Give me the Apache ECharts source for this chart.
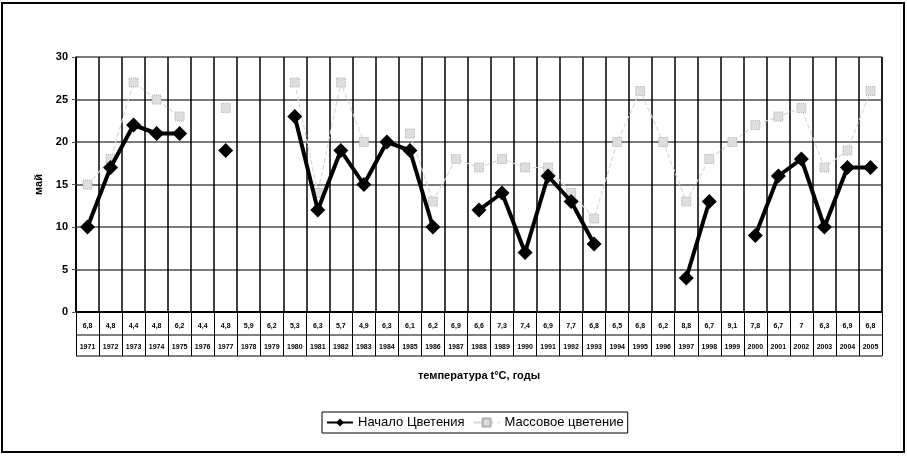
<!DOCTYPE html>
<html>
<head>
<meta charset="utf-8">
<style>
  html, body { margin: 0; padding: 0; background: #fff; }
  #chart { width: 907px; height: 456px; }
</style>
<script src="https://cdn.jsdelivr.net/npm/echarts@6/dist/echarts.min.js"></script>
</head>
<body>
<div id="chart"></div>
<script>
// годы наблюдений
var years = ['1971', '1972', '1973', '1974', '1975', '1976', '1977', '1978', '1979', '1980',
  '1981', '1982', '1983', '1984', '1985', '1986', '1987', '1988', '1989', '1990',
  '1991', '1992', '1993', '1994', '1995', '1996', '1997', '1998', '1999', '2000',
  '2001', '2002', '2003', '2004', '2005'];
// температура, t°C
var temps = ['6,8', '4,8', '4,4', '4,8', '6,2', '4,4', '4,8', '5,9', '6,2', '5,3',
  '6,3', '5,7', '4,9', '6,3', '6,1', '6,2', '6,9', '6,6', '7,3', '7,4',
  '6,9', '7,7', '6,8', '6,5', '6,8', '6,2', '8,8', '6,7', '9,1', '7,8',
  '6,7', '7', '6,3', '6,9', '6,8'];
// Начало Цветения (дата в мае)
var startBloom = [10, 17, 22, 21, 21, null, 19, null, null, 23,
  12, 19, 15, 20, 19, 10, null, 12, 14, 7,
  16, 13, 8, null, null, null, 4, 13, null, 9,
  16, 18, 10, 17, 17];
// Массовое цветение
var massBloom = [15, 18, 27, 25, 23, null, 24, null, null, 27,
  14, 27, 20, null, 21, 13, 18, 17, 18, 17,
  17, 14, 11, 20, 26, 20, 13, 18, 20, 22,
  23, 24, 17, 19, 26];
var yTicks = [0, 5, 10, 15, 20, 25, 30];

var chart = echarts.init(document.getElementById('chart'));
chart.setOption({
  backgroundColor: '#fff',
  textStyle: { fontFamily: 'Liberation Sans, Arial, sans-serif' },
  animation: false,
  grid: {
    left: 76, right: 25, top: 57, bottom: 144,
    show: true, borderColor: '#000', borderWidth: 1
  },
  legend: {
    top: 412,
    left: 322,
    borderColor: '#000',
    borderWidth: 1,
    padding: [4, 4],
    itemGap: 8,
    itemWidth: 26,
    itemHeight: 10,
    textStyle: { fontSize: 13, color: '#000' },
    data: ['Начало Цветения', 'Массовое цветение']
  },
  xAxis: {
    type: 'category',
    data: years,
    boundaryGap: true,
    name: 'температура t°C, годы',
    nameLocation: 'middle',
    nameGap: 58,
    nameTextStyle: { fontSize: 11, fontWeight: 'bold', color: '#000' },
    axisLine: { lineStyle: { color: '#000', width: 2 } },
    axisTick: { show: true, interval: 0, length: 44, lineStyle: { color: '#000', width: 1 } },
    splitLine: { show: true, interval: 0, lineStyle: { color: '#000', width: 1.5 } },
    axisLabel: {
      interval: 0,
      margin: 4,
      formatter: function (v, i) {
        return '{t|' + temps[i] + '}\n{y|' + v + '}';
      },
      rich: {
        t: { fontSize: 7, fontWeight: 'bold', color: '#000', lineHeight: 21 },
        y: { fontSize: 7, fontWeight: 'bold', color: '#000', lineHeight: 21 }
      }
    }
  },
  yAxis: {
    type: 'value',
    min: yTicks[0],
    max: yTicks[yTicks.length - 1],
    interval: 5,
    name: 'май',
    nameLocation: 'middle',
    nameGap: 30,
    nameRotate: 90,
    nameTextStyle: { fontSize: 11, fontWeight: 'bold', color: '#000' },
    axisLine: { show: true, lineStyle: { color: '#000', width: 1.5 } },
    axisTick: { show: true, length: 4, lineStyle: { color: '#555' } },
    splitLine: { lineStyle: { color: '#7a7a7a', width: 2 } },
    axisLabel: { fontSize: 11, fontWeight: 'bold', color: '#000', margin: 8 }
  },
  series: [{
    name: 'Начало Цветения',
    type: 'line',
    data: startBloom,
    connectNulls: false,
    symbol: 'diamond',
    symbolSize: 15,
    showAllSymbol: true,
    lineStyle: { color: '#000', width: 4 },
    itemStyle: { color: '#000' },
    z: 3
  }, {
    name: 'Массовое цветение',
    type: 'line',
    data: massBloom,
    connectNulls: false,
    symbol: 'rect',
    symbolSize: 9,
    showAllSymbol: true,
    lineStyle: { color: '#d8d8d8', width: 1.2, type: 'dashed' },
    itemStyle: { color: '#dedede', borderColor: '#b0b0b0', borderWidth: 1, borderType: 'dotted' },
    z: 2
  }],
  graphic: [
    // рамка всего рисунка
    { type: 'rect', shape: { x: 2, y: 3, width: 902, height: 449 }, style: { fill: null, stroke: '#000', lineWidth: 2 }, silent: true },
    // линии таблицы под осью
    { type: 'line', shape: { x1: 76, y1: 335, x2: 882, y2: 335 }, style: { stroke: '#000', lineWidth: 1 }, silent: true },
    { type: 'line', shape: { x1: 76, y1: 356, x2: 882, y2: 356 }, style: { stroke: '#000', lineWidth: 1 }, silent: true }
  ]
});
</script>
</body>
</html>
